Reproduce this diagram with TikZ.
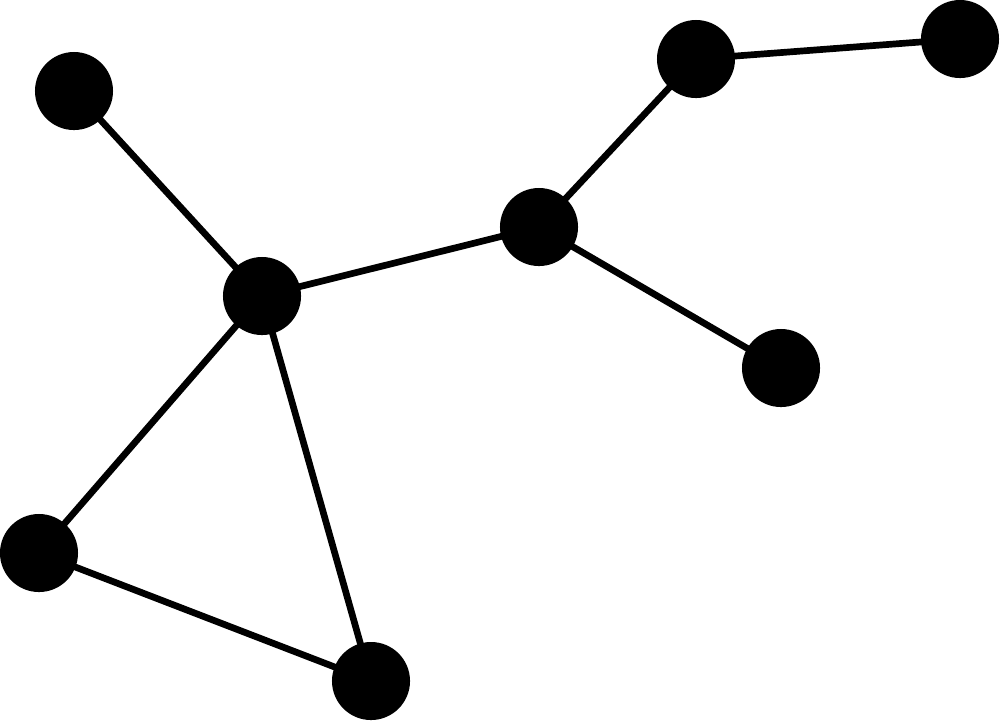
\documentclass[tikz,border=0pt]{standalone}
\begin{document}
\begin{tikzpicture}[x=0.01cm,y=-0.01cm,
  dot/.style={circle,fill=black,inner sep=0pt,minimum size=0.78cm},
  link/.style={line width=1.9pt,black}]
\useasboundingbox (0,0) rectangle (1000,720);
\node[dot] (a) at (74,91) {};
\node[dot] (b) at (262,296) {};
\node[dot] (c) at (539,227) {};
\node[dot] (d) at (696,59) {};
\node[dot] (e) at (960,39) {};
\node[dot] (f) at (781,368) {};
\node[dot] (g) at (39,553) {};
\node[dot] (h) at (371,681) {};
\draw[link] (a.center) -- (b.center);
\draw[link] (b.center) -- (c.center);
\draw[link] (c.center) -- (d.center);
\draw[link] (d.center) -- (e.center);
\draw[link] (c.center) -- (f.center);
\draw[link] (b.center) -- (g.center);
\draw[link] (b.center) -- (h.center);
\draw[link] (g.center) -- (h.center);
\end{tikzpicture}
\end{document}
